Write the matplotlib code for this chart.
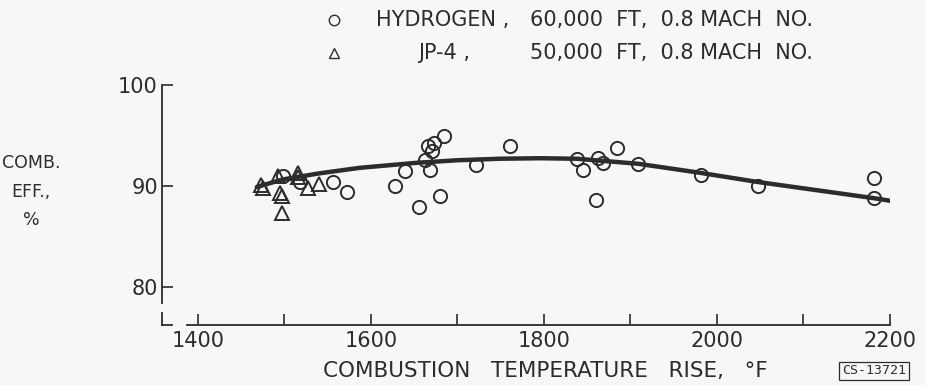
import matplotlib
matplotlib.use("Agg")
import matplotlib.pyplot as plt
from matplotlib.lines import Line2D

# ---- data ----
hydrogen_x = [1498, 1518, 1556, 1572, 1628, 1639, 1655, 1680, 1662, 1668, 1666, 1673,
              1671, 1684, 1721, 1761, 1838, 1845, 1862, 1868, 1860, 1884, 1909, 1982,
              2047, 2182, 2182]
hydrogen_y = [91.0, 90.4, 90.4, 89.4, 90.0, 91.5, 87.9, 89.0, 92.6, 91.6, 94.0, 94.3,
              93.5, 95.0, 92.1, 94.0, 92.7, 91.6, 92.8, 92.3, 88.6, 93.8, 92.2, 91.1,
              90.0, 90.8, 88.8]

jp4_x = [1473, 1475, 1492, 1495, 1497, 1497, 1516, 1516, 1527, 1540]
jp4_y = [90.1, 89.8, 91.0, 89.3, 89.0, 87.3, 91.3, 90.9, 89.8, 90.2]

curve_x = [1468, 1498, 1540, 1587, 1653, 1700, 1749, 1795, 1838, 1909, 1981, 2047, 2110, 2181, 2203]
curve_y = [89.9, 90.65, 91.25, 91.8, 92.3, 92.55, 92.7, 92.75, 92.7, 92.2, 91.3, 90.4, 89.65, 88.8, 88.5]

x_ticks = [1400, 1500, 1600, 1700, 1800, 1900, 2000, 2100, 2200]
x_ticklabels = ["1400", "", "1600", "", "1800", "", "2000", "", "2200"]
y_ticks = [80, 90, 100]
y_ticklabels = ["80", "90", "100"]

legend_names = ["HYDROGEN ,", "JP-4 ,"]
legend_conditions = ["60,000  FT,  0.8 MACH  NO.", "50,000  FT,  0.8 MACH  NO."]

x_label = "COMBUSTION   TEMPERATURE   RISE,   \u00b0F"
y_label = "COMB.\nEFF.,\n%"
figure_id = "CS-13721"

# ---- styling ----
plt.rcParams['font.family'] = ['DejaVu Sans']
ink = '#2e2c2a'
bg = '#f7f7f5'

W, H = 925, 385
fig = plt.figure(figsize=(W / 100, H / 100), dpi=100, facecolor=bg)
ax = fig.add_axes([162 / W, (H - 325) / H, (890 - 162) / W, 240 / H])
ax.set_facecolor(bg)

ax.set_xlim(1358.4, 2200)
ax.set_ylim(76.24, 100)

# curve
ax.plot(curve_x, curve_y, color=ink, lw=3.2, solid_capstyle='round',
        solid_joinstyle='round', zorder=2)
# data points
ax.plot(hydrogen_x, hydrogen_y, ls='none', marker='o', ms=9.5, mfc='none',
        mec=ink, mew=1.4, zorder=3)
ax.plot(jp4_x, jp4_y, ls='none', marker='^', ms=10, mfc='none',
        mec=ink, mew=1.4, zorder=3)

# axes / spines
for s in ['top', 'right']:
    ax.spines[s].set_visible(False)
ax.spines['left'].set_bounds(78.42, 100)
ax.spines['bottom'].set_bounds(1387, 2200)
for s in ['left', 'bottom']:
    ax.spines[s].set_color(ink)
    ax.spines[s].set_linewidth(1.3)

# hand-drawn corner of the axes
ax.plot([0, 0], [0, 0.05], transform=ax.transAxes, color=ink, lw=1.3, clip_on=False)
ax.plot([0, 0.0137], [0, 0], transform=ax.transAxes, color=ink, lw=1.3, clip_on=False)

ax.set_xticks(x_ticks)
ax.set_xticklabels(x_ticklabels)
ax.set_yticks(y_ticks)
ax.set_yticklabels(y_ticklabels)
ax.tick_params(axis='both', direction='in', length=8, width=1.2, colors=ink,
               labelsize=15)
ax.tick_params(axis='x', pad=4)
ax.tick_params(axis='y', pad=3)

# axis labels
fig.text(545 / W, 1 - 371 / H, x_label, ha='center', va='center', fontsize=15.5, color=ink)
fig.text(31 / W, 1 - 192 / H, y_label, ha='center', va='center', fontsize=12.5,
         color=ink, linespacing=1.75, multialignment='center')

# figure id box
fig.text(874 / W, 1 - 371 / H, figure_id, ha='center', va='center', fontsize=9.5,
         color=ink, family='DejaVu Sans Mono',
         bbox=dict(boxstyle='square,pad=0.2', fc='none', ec=ink, lw=0.9))

# legend at top
rows_y = [20, 53]
markers = ['o', '^']
name_x = [376, 418]
for yy, mk, nm, nx, cond in zip(rows_y, markers, legend_names, name_x, legend_conditions):
    fig.add_artist(Line2D([334 / W], [1 - yy / H], marker=mk, ms=7.5, mfc='none',
                          mec=ink, mew=1.0, ls='none', transform=fig.transFigure))
    fig.text(nx / W, 1 - yy / H, nm, ha='left', va='center', fontsize=15, color=ink)
    fig.text(530 / W, 1 - yy / H, cond, ha='left', va='center', fontsize=15, color=ink)

fig.savefig('out.png', dpi=100, facecolor=bg)
